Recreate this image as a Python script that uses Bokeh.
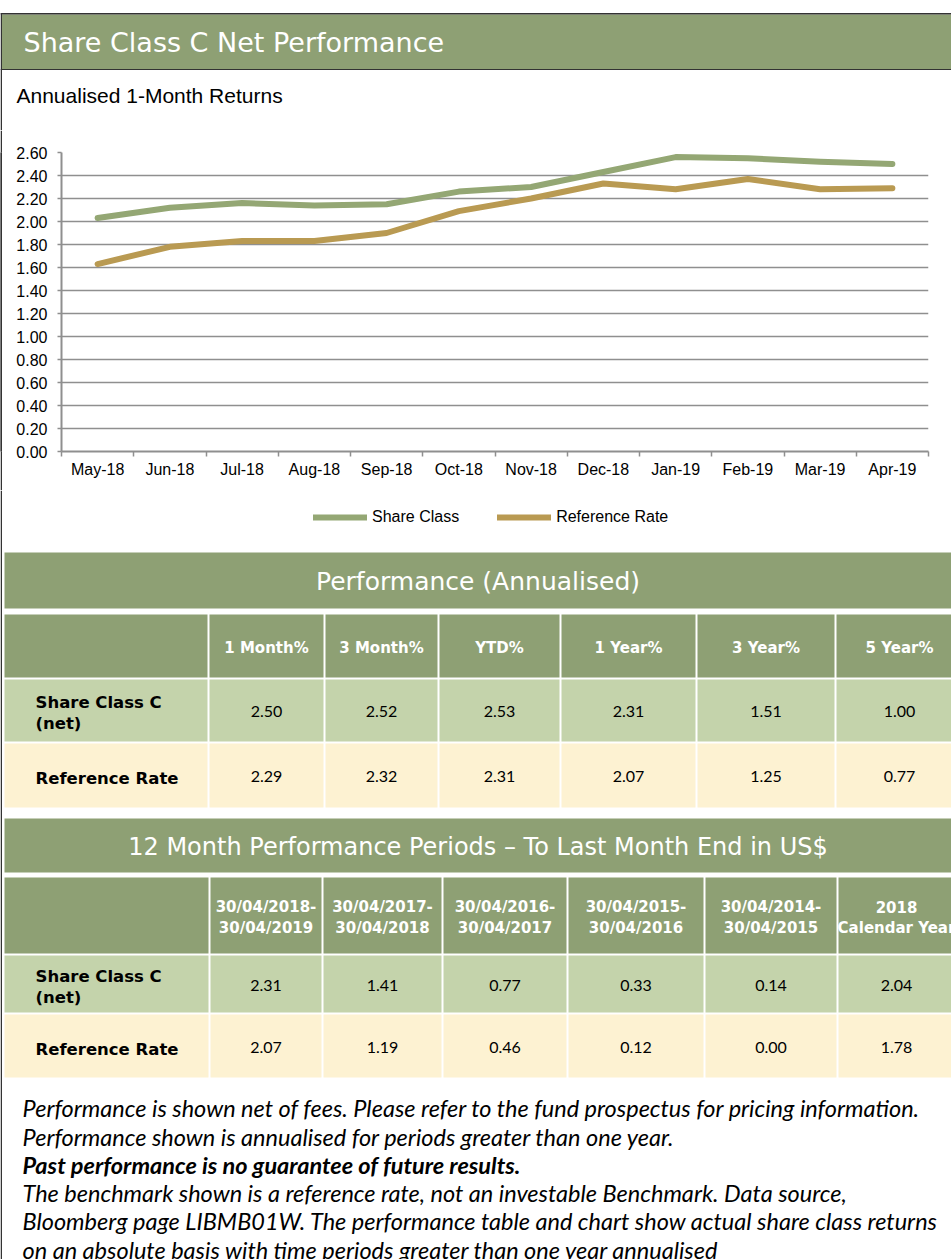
from bokeh.plotting import figure
from bokeh.layouts import column, row
from bokeh.models import (Range1d, FixedTicker, NumeralTickFormatter, Legend,
                          LegendItem, ColumnDataSource)
from bokeh.core.properties import value
from bokeh.embed import file_html
from bokeh.resources import INLINE

# ---------------- data ----------------
months = ["May-18", "Jun-18", "Jul-18", "Aug-18", "Sep-18", "Oct-18",
          "Nov-18", "Dec-18", "Jan-19", "Feb-19", "Mar-19", "Apr-19"]
share_class = [2.03, 2.12, 2.16, 2.14, 2.15, 2.26, 2.30, 2.43, 2.56, 2.55, 2.52, 2.50]
reference_rate = [1.63, 1.78, 1.83, 1.83, 1.90, 2.09, 2.20, 2.33, 2.28, 2.37, 2.28, 2.29]
y_ticks = [0.0, 0.2, 0.4, 0.6, 0.8, 1.0, 1.2, 1.4, 1.6, 1.8, 2.0, 2.2, 2.4, 2.6]

perf_headers = ["1 Month%", "3 Month%", "YTD%", "1 Year%", "3 Year%", "5 Year%"]
perf_share = [2.50, 2.52, 2.53, 2.31, 1.51, 1.00]
perf_ref = [2.29, 2.32, 2.31, 2.07, 1.25, 0.77]

period_top = ["30/04/2018-", "30/04/2017-", "30/04/2016-", "30/04/2015-", "30/04/2014-", "2018"]
period_bottom = ["30/04/2019", "30/04/2018", "30/04/2017", "30/04/2016", "30/04/2015", "Calendar Year"]
period_share = [2.31, 1.41, 0.77, 0.33, 0.14, 2.04]
period_ref = [2.07, 1.19, 0.46, 0.12, 0.00, 1.78]

row_labels = [["Share Class C", "(net)"], ["Reference Rate"]]

notes = [
    "Performance is shown net of fees. Please refer to the fund prospectus for pricing information.",
    "Performance shown is annualised for periods greater than one year.",
    "Past performance is no guarantee of future results.",
    "The benchmark shown is a reference rate, not an investable Benchmark. Data source,",
    "Bloomberg page LIBMB01W. The performance table and chart show actual share class returns",
    "on an absolute basis with time periods greater than one year annualised",
]
note_styles = ["italic", "italic", "bold italic", "italic", "italic", "italic"]

# ---------------- style ----------------
W = 951
HDR_GREEN = "#8ea074"
ROW_GREEN = "#c4d3ab"
ROW_CREAM = "#fdf2d2"
LINE_GREEN = "#94a774"
LINE_GOLD = "#b99a52"
BORDER = "#333333"
GRID = "#8f8f8f"


def blank(width, height, y0, y1):
    p = figure(width=width, height=height, x_range=Range1d(0, width),
               y_range=Range1d(y1, y0), toolbar_location=None,
               output_backend="svg", min_border=0, x_axis_type=None,
               y_axis_type=None, outline_line_color=None)
    return p


# ---------------- header ----------------
head = blank(W, 130, 0, 130)
head.quad(left=[1.5], right=[W], top=[14], bottom=[69], fill_color=HDR_GREEN, line_color=None)
head.quad(left=[0], right=[W], top=[12.5], bottom=[14], fill_color=BORDER, line_color=None)
head.quad(left=[0], right=[W], top=[68.5], bottom=[69.5], fill_color=BORDER, line_color=None)
head.quad(left=[0], right=[1.5], top=[12.5], bottom=[130], fill_color=BORDER, line_color=None)
head.text(x=[23], y=[42], text=["Share Class C Net Performance"], text_color="white",
          text_font=value("DejaVu Sans"), text_font_size="27px",
          text_baseline="middle", text_align="left")
head.text(x=[16], y=[95], text=["Annualised 1-Month Returns"], text_color="black",
          text_font=value("Liberation Sans"), text_font_size="21px",
          text_baseline="middle", text_align="left")

# ---------------- chart ----------------
n = len(months)
xs = list(range(1, n + 1))
chart = figure(width=W - 2, height=360, x_range=Range1d(0.5, n + 0.5),
               y_range=Range1d(0, 2.6), toolbar_location=None,
               output_backend="svg", min_border_left=59, min_border_right=23,
               min_border_top=22, min_border_bottom=39, outline_line_color=None)
chart.xgrid.visible = False
chart.ygrid.grid_line_color = GRID
chart.ygrid.grid_line_width = 1.5
chart.ygrid.ticker = FixedTicker(ticks=y_ticks)

chart.yaxis.ticker = FixedTicker(ticks=y_ticks)
chart.yaxis.formatter = NumeralTickFormatter(format="0.00")
chart.yaxis.major_label_text_font = "Liberation Sans"
chart.yaxis.major_label_text_font_size = "16px"
chart.yaxis.major_label_text_color = "black"
chart.yaxis.axis_line_color = GRID
chart.yaxis.axis_line_width = 2
chart.yaxis.major_tick_line_color = GRID
chart.yaxis.major_tick_line_width = 1.5
chart.yaxis.major_tick_out = 4
chart.yaxis.major_tick_in = 0
chart.yaxis.minor_tick_line_color = None
chart.yaxis.major_label_standoff = 10

bounds = [i + 0.5 for i in range(0, n + 1)]
chart.xaxis.ticker = FixedTicker(ticks=xs, minor_ticks=bounds)
chart.xaxis.major_label_overrides = {x: m for x, m in zip(xs, months)}
chart.xaxis.major_label_text_font = "Liberation Sans"
chart.xaxis.major_label_text_font_size = "16px"
chart.xaxis.major_label_text_color = "black"
chart.xaxis.axis_line_color = GRID
chart.xaxis.axis_line_width = 2
chart.xaxis.major_tick_line_color = None
chart.xaxis.major_tick_out = 4
chart.xaxis.major_tick_in = 0
chart.xaxis.minor_tick_line_color = GRID
chart.xaxis.minor_tick_line_width = 1.5
chart.xaxis.minor_tick_out = 5
chart.xaxis.minor_tick_in = 0
chart.xaxis.major_label_standoff = 4

chart.line(xs, share_class, line_color=LINE_GREEN, line_width=6,
           line_cap="round", line_join="round")
chart.line(xs, reference_rate, line_color=LINE_GOLD, line_width=6,
           line_cap="round", line_join="round")

strip = figure(width=2, height=360, x_range=Range1d(0, 1), y_range=Range1d(0, 1),
               toolbar_location=None, output_backend="svg", min_border=0,
               x_axis_type=None, y_axis_type=None, outline_line_color=None,
               background_fill_color=BORDER, border_fill_color=BORDER)
strip.quad(left=[0], right=[1], top=[1], bottom=[0], fill_color=BORDER, line_color=None)

# ---------------- bottom (legend + tables + notes) ----------------
Y0 = 490
H = 1259 - Y0
bot = blank(W, H, Y0, 1259)
bot.quad(left=[0], right=[1.5], top=[Y0], bottom=[1259], fill_color=BORDER, line_color=None)

# legend swatches: renderers whose points lie outside the visible area
off = ColumnDataSource(data=dict(x=[-60, -50], y=[0, 0]))
r_sc = bot.line("x", "y", source=off, line_color=LINE_GREEN, line_width=6, line_cap="round")
r_rr = bot.line("x", "y", source=off, line_color=LINE_GOLD, line_width=6, line_cap="round")
legend = Legend(items=[LegendItem(label="Share Class", renderers=[r_sc]),
                       LegendItem(label="Reference Rate", renderers=[r_rr])],
                location=(313, H - (526 - Y0)), orientation="horizontal",
                glyph_width=54, glyph_height=18, label_height=18, label_standoff=5,
                spacing=38, padding=0, margin=0, background_fill_alpha=0,
                border_line_color=None, label_text_font="Liberation Sans",
                label_text_font_size="16px", label_text_color="black")
bot.add_layout(legend)

TEXT_W = dict(text_color="white", text_baseline="middle", text_align="center")


def table(title, title_box, title_size, lefts, rights, hdr_box, hdr_lines, hdr_ys,
          row_boxes, values, value_ys, label_ys):
    bot.quad(left=[4], right=[W], top=[title_box[0]], bottom=[title_box[1]],
             fill_color=HDR_GREEN, line_color=None)
    bot.text(x=[(4 + W) / 2], y=[(title_box[0] + title_box[1]) / 2 + 1], text=[title],
             text_font=value("DejaVu Sans"), text_font_size=title_size, **TEXT_W)
    bot.quad(left=lefts, right=rights, top=[hdr_box[0]] * len(lefts),
             bottom=[hdr_box[1]] * len(lefts), fill_color=HDR_GREEN, line_color=None)
    centers = [(l + r) / 2 for l, r in zip(lefts[1:], rights[1:])]
    for k, lines in enumerate(hdr_lines):
        bot.text(x=centers, y=[hdr_ys[k]] * len(centers), text=lines,
                 text_font=value("DejaVu Sans"), text_font_style="bold",
                 text_font_size="15px", **TEXT_W)
    fills = [ROW_GREEN, ROW_CREAM]
    for i, box in enumerate(row_boxes):
        bot.quad(left=lefts, right=rights, top=[box[0]] * len(lefts),
                 bottom=[box[1]] * len(lefts), fill_color=fills[i], line_color=None)
        bot.text(x=centers, y=[value_ys[i]] * len(centers),
                 text=["%.2f" % v for v in values[i]], text_color="black",
                 text_font=value("Lato"), text_font_size="16px",
                 text_baseline="middle", text_align="center")
        bot.text(x=[35] * len(row_labels[i]), y=label_ys[i], text=row_labels[i],
                 text_color="black", text_font=value("DejaVu Sans"),
                 text_font_style="bold", text_font_size="16.5px",
                 text_baseline="middle", text_align="left")


table("Performance (Annualised)", (552, 608), "25px",
      [4, 209, 325, 439, 561, 697, 836], [207, 323, 437, 559, 695, 834, 962],
      (614, 677), [perf_headers], [647],
      [(679, 741), (743, 807)], [perf_share, perf_ref], [711, 776],
      [[702, 723], [778]])

table("12 Month Performance Periods \u2013 To Last Month End in US$", (818, 872), "24px",
      [4, 210, 323, 443, 568, 705, 838], [208, 321, 441, 566, 703, 836, 954],
      (877, 953), [period_top, period_bottom], [906, 927],
      [(955, 1012), (1014, 1077)], [period_share, period_ref], [985, 1047],
      [[976, 997], [1049]])

note_ys = [1107, 1136, 1164, 1192, 1220, 1249]
for txt, yy, st in zip(notes, note_ys, note_styles):
    bot.text(x=[22], y=[yy], text=[txt], text_color="black", text_font=value("Lato"),
             text_font_style=st, text_font_size="23.5px", text_baseline="middle",
             text_align="left")

layout = column(head, row(strip, chart, spacing=0), bot, spacing=0)

with open("out.html", "w") as f:
    f.write(file_html(layout, INLINE))
